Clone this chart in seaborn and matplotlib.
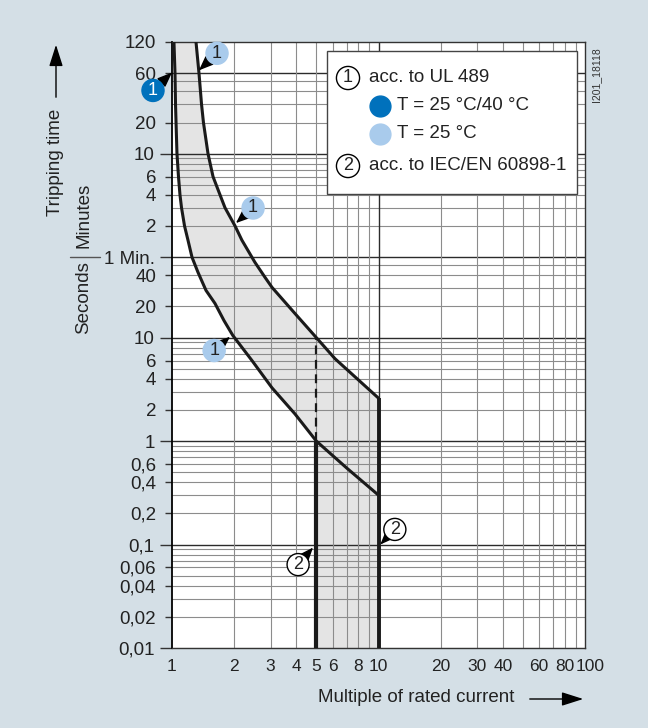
import matplotlib
matplotlib.use("Agg")
import matplotlib.pyplot as plt
from matplotlib.lines import Line2D
from matplotlib.patches import Rectangle, FancyArrowPatch
from matplotlib.transforms import ScaledTranslation
import numpy as np
import seaborn as sns

# --- values (multiple of In, tripping time in s) ---
ul_low_x = [1.022, 1.034, 1.040, 1.046, 1.057, 1.075, 1.093, 1.112, 1.15,
            1.195, 1.25, 1.336, 1.461, 1.615, 1.786, 1.97, 2.44, 3.05, 3.94,
            5.0, 7.03, 10.0]
ul_low_t = [7200, 3600, 1800, 1200, 600, 360, 240, 180, 120,
            87.5, 59.8, 42.8, 28.6, 21.4, 14.6, 10.5, 6.0, 3.27, 1.83,
            1.0, 0.547, 0.30]

ul_high_x = [1.307, 1.351, 1.39, 1.42, 1.494, 1.58, 1.708, 1.806, 2.02,
             2.18, 2.52, 2.82, 3.05, 3.94, 5.0, 6.16, 10.0]
ul_high_t = [7200, 3600, 1800, 1200, 600, 360, 240, 180, 120,
             87.5, 53.5, 38.3, 30.6, 17.1, 10.0, 6.25, 2.6]

# IEC/EN 60898-1 instantaneous release band
iec_x_low = 5
iec_x_high = 10
t_min = 0.01
t_max = 7200

# tick labels
sec_ticks = [0.01, 0.02, 0.04, 0.06, 0.1, 0.2, 0.4, 0.6, 1, 2, 4, 6, 10, 20, 40]
min_ticks = [2, 4, 6, 10, 20, 60, 120]
x_ticks = [1, 2, 3, 4, 5, 6, 8, 10, 20, 30, 40, 60, 80, 100]

BG = "#d4dfe6"
DARK_BLUE = "#0071bc"
LIGHT_BLUE = "#a9cbec"
FILL = "#e4e4e4"
LINE = "#1a1a1a"

sns.set_theme(style="white")
plt.rcParams["font.family"] = ["Liberation Sans", "DejaVu Sans"]
plt.rcParams["text.color"] = "#222222"

W, H = 648, 728
fig = plt.figure(figsize=(W / 100, H / 100), dpi=100, facecolor=BG)
ax = fig.add_axes([172 / W, 1 - 648 / H, (585 - 172) / W, (648 - 42) / H])
ax.set_facecolor("white")


def px(x, y):
    """pixel position of the reference -> figure fraction"""
    return x / W, 1 - y / H


ax.set_xscale("log")
ax.set_yscale("log")
ax.set_xlim(1, 100)
ax.set_ylim(t_min, t_max)

# --- shaded band ---
i5 = ul_low_x.index(iec_x_low)
poly_x = np.concatenate([ul_low_x[:i5 + 1], [iec_x_low, iec_x_high],
                         ul_high_x[::-1]])
poly_t = np.concatenate([ul_low_t[:i5 + 1], [t_min, t_min],
                         ul_high_t[::-1]])
ax.fill(poly_x, poly_t, color=FILL, lw=0, zorder=1)

# --- grid ---
sec_grid = [k * 10.0 ** e for e in (-2, -1, 0) for k in range(1, 10)] + [10, 20, 30, 40, 50]
min_grid = [60 * m for m in [1, 2, 3, 4, 5, 6, 7, 8, 9, 10, 20, 30, 40, 50, 60]]
major_h = [0.1, 1, 10, 60, 600, 3600]
for v in sec_grid + min_grid:
    dark = v in major_h
    ax.axhline(v, color="#2b2b2b" if dark else "#8c8c8c",
               lw=1.0 if dark else 0.8, zorder=1.5)
x_grid = [k * 10 ** e for e in (0, 1) for k in range(2, 10)] + [10]
for v in x_grid:
    dark = v == 10
    ax.axvline(v, color="#2b2b2b" if dark else "#8c8c8c",
               lw=1.0 if dark else 0.8, zorder=1.5)

# --- curves ---
sns.lineplot(x=ul_low_x, y=ul_low_t, ax=ax, color=LINE, lw=2.2,
             sort=False, estimator=None, zorder=3)
sns.lineplot(x=ul_high_x, y=ul_high_t, ax=ax, color=LINE, lw=2.2,
             sort=False, estimator=None, zorder=3)
ax.vlines(iec_x_low, ul_low_t[i5], ul_high_t[ul_high_x.index(iec_x_low)],
          color=LINE, lw=1.6, linestyles=(0, (4, 2.5)), zorder=3)
ax.vlines(iec_x_low, t_min, ul_low_t[i5], color=LINE, lw=3.0, zorder=3)
ax.vlines(iec_x_high, t_min, ul_high_t[-1], color=LINE, lw=2.8, zorder=3)

# --- ticks ---
def fmt(v):
    return f"{v:g}".replace(".", ",")

long_ticks = [0.01, 0.1, 1, 10, 60, 600]
y_vals = sec_ticks + [60] + [m * 60 for m in min_ticks]
y_labels = [fmt(v) for v in sec_ticks] + ["1 Min."] + [fmt(m) for m in min_ticks]
maj = [(v, l) for v, l in zip(y_vals, y_labels) if v in long_ticks]
mnr = [(v, l) for v, l in zip(y_vals, y_labels) if v not in long_ticks]
ax.set_yticks([v for v, _ in maj], [l for _, l in maj])
ax.set_yticks([v for v, _ in mnr], [l for _, l in mnr], minor=True)
ax.tick_params(axis="y", which="major", length=9, pad=3.5, width=1,
               color="#333333", labelsize=13.5, labelcolor="#222222", left=True)
ax.tick_params(axis="y", which="minor", length=5, pad=6.4, width=1,
               color="#333333", labelsize=13.5, labelcolor="#222222", left=True)

ax.set_xticks(x_ticks, [fmt(v) for v in x_ticks])
ax.set_xticks([1, 100], minor=True)
ax.xaxis.set_minor_formatter(plt.NullFormatter())
ax.tick_params(axis="x", which="major", length=0, pad=8, labelsize=12.5,
               labelcolor="#222222")
ax.tick_params(axis="x", which="minor", length=6, width=1, color="#333333",
               bottom=True)
# the last label sits a little right of its tick, as in the reference
last = ax.get_xticklabels()[-1]
last.set_transform(last.get_transform()
                   + ScaledTranslation(5 / 100, 0, fig.dpi_scale_trans))

for side in ["top", "right", "bottom"]:
    ax.spines[side].set_color("#333333")
    ax.spines[side].set_linewidth(1.0)
ax.spines["left"].set_color("black")
ax.spines["left"].set_linewidth(1.3)

# --- callouts on the curves ---
def callout(num, center, tip, fc, tc):
    ax.annotate(num, xy=tip, xytext=center, ha="center", va="center",
                fontsize=13, color=tc, annotation_clip=False, zorder=6,
                bbox=dict(boxstyle="circle,pad=0.14", fc=fc,
                          ec="black" if fc == "white" else fc, lw=1),
                arrowprops=dict(arrowstyle="-|>,head_length=0.75,head_width=0.3",
                                color="black", lw=1, shrinkA=0, shrinkB=0,
                                mutation_scale=12))

callout("1", (0.809, 2450), (1.0, 3650), DARK_BLUE, "white")
callout("1", (1.652, 5600), (1.35, 3830), LIGHT_BLUE, "#222222")
callout("1", (2.47, 179), (2.04, 128), LIGHT_BLUE, "#222222")
callout("1", (1.60, 7.5), (1.91, 10.2), LIGHT_BLUE, "#222222")
callout("2", (4.08, 0.064), (4.82, 0.0935), "white", "#222222")
callout("2", (12.0, 0.14), (10.2, 0.1), "white", "#222222")

# --- legend box ---
x0, y0 = px(327, 194)
x1, y1 = px(577, 51)
fig.add_artist(Rectangle((x0, y0), x1 - x0, y1 - y0, transform=fig.transFigure,
                         fc="white", ec="#444444", lw=1, zorder=5))
for num, (cx, cy), label in [("1", (348, 78), "acc. to UL 489"),
                             ("2", (348, 166), "acc. to IEC/EN 60898-1")]:
    fig.text(*px(cx, cy), num, ha="center", va="center", fontsize=13, zorder=6,
             bbox=dict(boxstyle="circle,pad=0.17", fc="white", ec="black", lw=1))
    fig.text(*px(369, cy), label, ha="left", va="center", fontsize=13.5, zorder=6)
for color, cy, label in [(DARK_BLUE, 106, "T = 25 °C/40 °C"),
                         (LIGHT_BLUE, 134, "T = 25 °C")]:
    fig.add_artist(Line2D([px(380, cy)[0]], [px(380, cy)[1]], marker="o", ms=15,
                          mfc=color, mec=color, transform=fig.transFigure, zorder=6))
    fig.text(*px(397, cy), label, ha="left", va="center", fontsize=13.5, zorder=6)

fig.text(*px(596, 75), "I201_18118", rotation=90, ha="center", va="center",
         fontsize=7.5, color="#333333")

# --- axis titles with arrows ---
fig.text(*px(56, 162), "Tripping time", rotation=90, ha="center", va="center",
         fontsize=13.5)
fig.add_artist(FancyArrowPatch(
    px(56, 100), px(56, 42), transform=fig.transFigure,
    arrowstyle="-|>,head_length=1.1,head_width=0.35", mutation_scale=12,
    color="black", lw=1))
fig.text(*px(84, 215), "Minutes", rotation=90, ha="center", va="center",
         fontsize=13.5)
fig.text(*px(84, 298), "Seconds", rotation=90, ha="center", va="center",
         fontsize=13.5)
fig.add_artist(Line2D([px(70, 257)[0], px(100, 257)[0]],
                      [px(70, 257)[1]] * 2, transform=fig.transFigure,
                      color="#555555", lw=1))

fig.text(*px(416, 698), "Multiple of rated current", ha="center", va="center",
         fontsize=13.5)
fig.add_artist(FancyArrowPatch(
    px(527, 699), px(586, 699), transform=fig.transFigure,
    arrowstyle="-|>,head_length=1.1,head_width=0.35", mutation_scale=12,
    color="black", lw=1))

fig.savefig("out.png", dpi=100, facecolor=BG)
